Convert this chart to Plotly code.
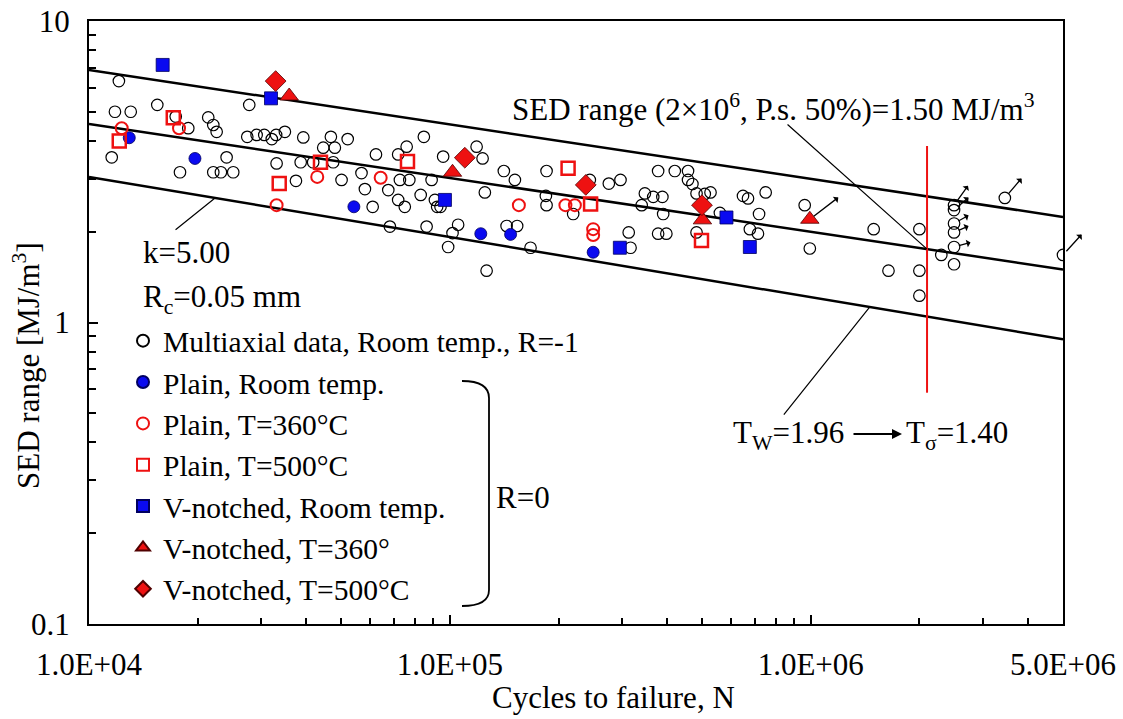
import math
import plotly.graph_objects as go

# ---------------- data ----------------
multi_N = [1.21e4, 1.18e4, 1.305e4, 1.156e4, 1.546e4, 1.739e4, 1.884e4, 1.787e4, 2.14e4, 2.21e4,
           2.258e4, 2.406e4, 2.21e4, 2.32e4, 2.51e4, 2.78e4, 2.745e4, 2.914e4, 3.06e4, 3.21e4,
           3.30e4, 3.49e4, 3.31e4, 3.745e4, 3.86e4, 3.925e4, 4.18e4, 4.457e4, 4.68e4, 4.80e4,
           4.75e4, 5.01e4, 5.21e4, 5.69e4, 5.815e4, 6.11e4, 6.24e4, 6.75e4, 6.82e4, 7.19e4,
           7.59e4, 7.19e4, 7.50e4, 7.27e4, 7.72e4, 8.30e4, 8.47e4, 8.62e4, 8.90e4, 9.09e4,
           9.22e4, 9.42e4, 9.58e4, 9.89e4, 1.017e5, 1.054e5, 1.186e5, 1.232e5, 1.25e5, 1.411e5,
           1.514e5, 1.264e5, 1.436e5, 1.536e5, 1.673e5, 1.853e5, 1.845e5, 1.853e5, 2.196e5, 2.442e5,
           2.757e5, 2.97e5, 3.13e5, 3.167e5, 3.40e5, 3.47e5, 3.66e5, 3.88e5, 3.90e5, 3.776e5,
           3.98e5, 3.776e5, 4.20e5, 4.57e5, 4.57e5, 4.70e5, 4.825e5, 5.085e5, 5.275e5, 4.825e5,
           5.60e5, 6.49e5, 6.70e5, 7.50e5, 7.19e5, 6.78e5, 7.14e5, 9.62e5, 9.94e5, 1.494e6,
           2.0e6, 1.642e6, 2.0e6, 2.0e6, 2.30e6, 2.495e6, 2.495e6, 2.495e6, 2.495e6, 2.495e6,
           2.495e6, 3.45e6, 5.0e6]
multi_S = [6.32, 5.00, 5.00, 3.53, 5.27, 4.82, 4.41, 3.15, 4.79, 4.52,
           4.29, 3.53, 3.15, 3.15, 3.15, 5.27, 4.13, 4.19, 4.19, 4.06,
           4.19, 4.29, 3.37, 2.95, 3.40, 4.11, 3.40, 3.80, 4.13, 3.80,
           3.40, 2.97, 4.06, 3.13, 2.77, 2.42, 3.61, 2.75, 2.08, 3.61,
           3.83, 2.55, 2.42, 2.97, 2.97, 2.65, 4.13, 2.08, 2.97, 2.55,
           2.42, 2.42, 3.55, 1.78, 1.98, 2.11, 3.83, 3.50, 2.70, 3.18,
           2.97, 1.485, 2.09, 2.09, 1.77, 3.18, 2.63, 2.45, 2.29, 2.97,
           2.89, 2.97, 1.99, 1.77, 2.45, 2.68, 2.61, 2.61, 2.29, 1.97,
           1.97, 3.18, 3.18, 3.18, 2.97, 2.88, 2.68, 2.67, 2.70, 1.99,
           2.31, 2.63, 2.58, 2.70, 2.29, 2.04, 1.97, 2.45, 1.76, 2.04,
           2.04, 1.485, 1.485, 1.227, 1.675, 2.45, 2.36, 2.13, 1.99, 1.78,
           1.56, 2.59, 1.675]

plain_rt_N = [1.293e4, 1.966e4, 5.42e4, 1.218e5, 1.473e5, 2.495e5]
plain_rt_S = [4.10, 3.50, 2.42, 1.97, 1.96, 1.71]

plain_360_N = [1.232e4, 1.776e4, 3.31e4, 4.29e4, 6.43e4, 1.553e5, 2.09e5, 2.22e5, 2.495e5, 2.495e5]
plain_360_S = [4.41, 4.41, 2.45, 3.04, 3.02, 2.45, 2.45, 2.45, 2.04, 1.95]

plain_500_N = [1.213e4, 1.712e4, 3.366e4, 4.38e4, 7.63e4, 2.126e5, 2.454e5, 4.98e5]
plain_500_S = [4.00, 4.78, 2.89, 3.40, 3.42, 3.25, 2.47, 1.87]

vn_rt_N = [1.60e4, 3.194e4, 9.69e4, 2.958e5, 5.84e5, 6.78e5]
vn_rt_S = [7.15, 5.54, 2.55, 1.77, 2.23, 1.78]

vn_360_N = [3.587e4, 1.017e5, 5.01e5, 9.94e5]
vn_360_S = [5.64, 3.15, 2.19, 2.20]

vn_500_N = [3.29e4, 1.10e5, 2.38e5, 4.995e5]
vn_500_S = [6.32, 3.52, 2.86, 2.45]

# scatter band lines (values at the two ends of the x range)
band_N = [1e4, 5e6]
upper_S = [6.88, 2.24]
mid_S = [4.55, 1.50]
lower_S = [3.04, 0.88]

# red vertical line
red_N = [2.1e6, 2.1e6]
red_S = [3.85, 0.585]

# run-out points (arrows): N, S, arrow head offset (px)
runout_N = [9.94e5, 3.45e6, 5.0e6, 2.495e6, 2.495e6, 2.495e6, 2.495e6, 2.495e6]
runout_S = [2.20, 2.59, 1.675, 2.45, 2.36, 2.13, 1.99, 1.78]
runout_dx = [30, 18, 20, 15, 16, 16, 16, 18]
runout_dy = [-23, -21, -22, -21, -14, -9, -7, -5]

x_major = [1e4, 1e5, 1e6, 5e6]
x_major_text = ["1.0E+04", "1.0E+05", "1.0E+06", "5.0E+06"]
x_minor = [2e4, 3e4, 4e4, 5e4, 6e4, 7e4, 8e4, 9e4,
           2e5, 3e5, 4e5, 5e5, 6e5, 7e5, 8e5, 9e5, 2e6, 3e6, 4e6]
y_major = [0.1, 1, 10]
y_major_text = ["0.1", "1", "10"]
y_minor = [0.2, 0.3, 0.4, 0.5, 0.6, 0.7, 0.8, 0.9, 2, 3, 4, 5, 6, 7, 8, 9]

# ---------------- figure ----------------
FONT = "Liberation Serif"
FS = 31
RED = "#EE1111"
BLUE = "#0A0AF0"
W, H = 1123, 719
ML, MR, MT, MB = 89, 60, 21, 95
PW, PH = W - ML - MR, H - MT - MB


def px(x):
    return (x - ML) / PW


def py(y):
    return (H - MB - y) / PH


def line_at(n, svals):
    t = (math.log10(n) - math.log10(band_N[0])) / (math.log10(band_N[1]) - math.log10(band_N[0]))
    return 10 ** (math.log10(svals[0]) + t * (math.log10(svals[1]) - math.log10(svals[0])))


fig = go.Figure()

for s in (upper_S, mid_S, lower_S):
    fig.add_trace(go.Scatter(x=band_N, y=s, mode="lines", line=dict(color="black", width=2.5),
                             showlegend=False, hoverinfo="skip"))

fig.add_trace(go.Scatter(x=red_N, y=red_S, mode="lines", line=dict(color=RED, width=2),
                         showlegend=False, hoverinfo="skip"))

fig.add_trace(go.Scatter(x=multi_N, y=multi_S, mode="markers", name="Multiaxial data, Room temp., R=-1",
                         marker=dict(symbol="circle-open", size=11.5, color="black", line=dict(width=1.2))))
fig.add_trace(go.Scatter(x=plain_rt_N, y=plain_rt_S, mode="markers", name="Plain, Room temp.",
                         marker=dict(symbol="circle", size=12, color=BLUE, line=dict(width=0.8, color="#000060"))))
fig.add_trace(go.Scatter(x=plain_360_N, y=plain_360_S, mode="markers", name="Plain, T=360°C",
                         marker=dict(symbol="circle-open", size=12, color=RED, line=dict(width=2))))
fig.add_trace(go.Scatter(x=plain_500_N, y=plain_500_S, mode="markers", name="Plain, T=500°C",
                         marker=dict(symbol="square-open", size=13, color=RED, line=dict(width=2.5))))
fig.add_trace(go.Scatter(x=vn_rt_N, y=vn_rt_S, mode="markers", name="V-notched, Room temp.",
                         marker=dict(symbol="square", size=13, color=BLUE, line=dict(width=0.8, color="#000060"))))
fig.add_trace(go.Scatter(x=vn_360_N, y=vn_360_S, mode="markers", name="V-notched, T=360°",
                         marker=dict(symbol="triangle-up", size=16, color=RED, line=dict(width=0.8, color="#500000"))))
fig.add_trace(go.Scatter(x=vn_500_N, y=vn_500_S, mode="markers", name="V-notched, T=500°C",
                         marker=dict(symbol="diamond", size=16, color=RED, line=dict(width=0.8, color="#500000"))))

ann = []
# run-out arrows
for n, s, dx, dy in zip(runout_N, runout_S, runout_dx, runout_dy):
    ann.append(dict(x=math.log10(n), y=math.log10(s), xref="x", yref="y", ax=dx, ay=dy,
                    text="", showarrow=True, arrowside="start", arrowhead=2, arrowsize=1,
                    arrowwidth=1.3, arrowcolor="black", standoff=5))

# leader lines
lead_k_N = 2.235e4
lead_tw_N = 1.456e6
ann.append(dict(x=math.log10(lead_k_N), y=math.log10(line_at(lead_k_N, lower_S)), xref="x", yref="y",
                ax=-41, ay=33, text="", showarrow=True, arrowhead=0, arrowwidth=1.2, arrowcolor="black"))
ann.append(dict(x=math.log10(lead_tw_N), y=math.log10(line_at(lead_tw_N, lower_S)), xref="x", yref="y",
                ax=-87, ay=109, text="", showarrow=True, arrowhead=0, arrowwidth=1.2, arrowcolor="black"))
ann.append(dict(x=math.log10(red_N[0]), y=math.log10(line_at(red_N[0], mid_S)), xref="x", yref="y",
                ax=-141, ay=-126, text="", showarrow=True, arrowhead=0, arrowwidth=1.2, arrowcolor="black"))

TF = dict(family=FONT, size=FS, color="black")
ann.append(dict(x=px(510), y=py(107), xref="paper", yref="paper", xanchor="left", yanchor="middle",
                text="SED range (2×10<sup>6</sup>, P.s. 50%)=1.50 MJ/m<sup>3</sup>", showarrow=False, font=TF))
ann.append(dict(x=px(141), y=py(252), xref="paper", yref="paper", xanchor="left", yanchor="middle",
                text="k=5.00", showarrow=False, font=TF))
ann.append(dict(x=px(141), y=py(299), xref="paper", yref="paper", xanchor="left", yanchor="middle",
                text="R<sub>c</sub>=0.05 mm", showarrow=False, font=TF))
ann.append(dict(x=px(523), y=py(497), xref="paper", yref="paper", xanchor="center", yanchor="middle",
                text="R=0", showarrow=False, font=TF))
ann.append(dict(x=px(731), y=py(435), xref="paper", yref="paper", xanchor="left", yanchor="middle",
                text="T<sub>W</sub>=1.96", showarrow=False, font=TF))
ann.append(dict(x=px(904), y=py(435), xref="paper", yref="paper", xanchor="left", yanchor="middle",
                text="T<sub>σ</sub>=1.40", showarrow=False, font=TF))
ann.append(dict(x=px(902), y=py(434), xref="paper", yref="paper", ax=-50, ay=0, text="", showarrow=True,
                arrowhead=2, arrowsize=1, arrowwidth=2, arrowcolor="black"))
# axis titles
ann.append(dict(x=px(27), y=py(366), xref="paper", yref="paper", xanchor="center", yanchor="middle",
                textangle=-90, text="SED range [MJ/m<sup>3</sup>]", showarrow=False, font=TF))
ann.append(dict(x=px(490), y=py(697), xref="paper", yref="paper", xanchor="left", yanchor="middle",
                text="Cycles to failure, N", showarrow=False, font=TF))

# bracket
bx0, bx1 = px(462), px(489)
bracket = (f"M {bx0},{py(381)} Q {bx1},{py(381)} {bx1},{py(398)} "
           f"L {bx1},{py(590)} Q {bx1},{py(606)} {bx0},{py(606)}")

fig.update_layout(
    width=W, height=H,
    margin=dict(l=ML, r=MR, t=MT, b=MB, pad=0, autoexpand=False),
    paper_bgcolor="white", plot_bgcolor="white",
    font=dict(family=FONT, size=FS, color="black"),
    showlegend=True,
    legend=dict(x=px(123), y=py(315), xanchor="left", yanchor="top", bgcolor="rgba(0,0,0,0)",
                font=dict(family=FONT, size=29.5, color="black"), tracegroupgap=0,
                itemsizing="constant"),
    annotations=ann,
    shapes=[dict(type="path", path=bracket, xref="paper", yref="paper",
                 line=dict(color="black", width=1.8))],
)

fig.update_xaxes(type="log", range=[4, math.log10(5e6)], showline=True, linecolor="black", linewidth=2,
                 mirror=True, showgrid=False, zeroline=False, ticks="inside", ticklen=9, tickwidth=1.5,
                 tickcolor="black", tickvals=x_major, ticktext=x_major_text, automargin=False,
                 tickfont=dict(family=FONT, size=FS), ticklabelstandoff=12,
                 minor=dict(tickvals=x_minor, ticks="inside", ticklen=6, tickwidth=1.5, tickcolor="black",
                            showgrid=False))
fig.update_yaxes(type="log", range=[-1, 1], showline=True, linecolor="black", linewidth=2,
                 mirror=True, showgrid=False, zeroline=False, ticks="inside", ticklen=9, tickwidth=1.5,
                 tickcolor="black", tickvals=y_major, ticktext=y_major_text, automargin=False,
                 tickfont=dict(family=FONT, size=FS), ticklabelstandoff=11,
                 minor=dict(tickvals=y_minor, ticks="inside", ticklen=7, tickwidth=1.5, tickcolor="black",
                            showgrid=False))

fig.write_html("out.html", config={"displayModeBar": False},
               post_script="document.body.style.margin='0';document.body.style.overflow='hidden';")
